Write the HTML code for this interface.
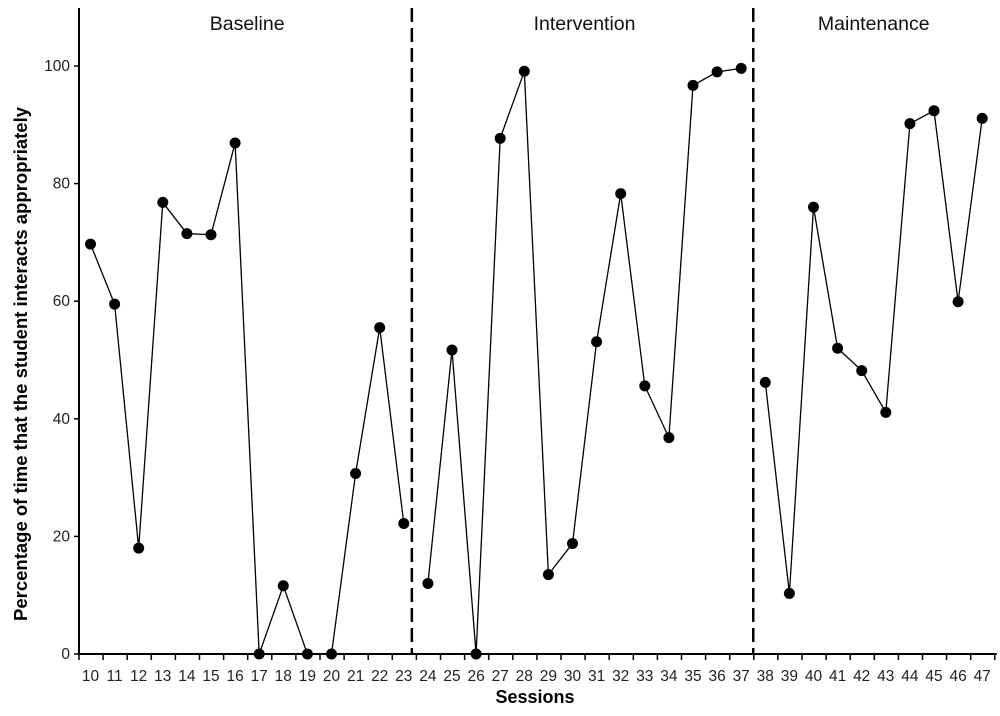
<!DOCTYPE html>
<html><head><meta charset="utf-8"><style>
body{margin:0;background:#fff;}
svg{display:block;font-family:"Liberation Sans",Arial,sans-serif;}
</style></head><body>
<svg id="chart" width="1000" height="716"></svg>
<script>
const sessions=[10,11,12,13,14,15,16,17,18,19,20,21,22,23,24,25,26,27,28,29,30,31,32,33,34,35,36,37,38,39,40,41,42,43,44,45,46,47];
const values=[69.7,59.5,18,76.8,71.5,71.3,86.9,0,11.6,0,0,30.7,55.5,22.2,12,51.7,0,87.7,99.1,13.5,18.8,53.1,78.3,45.6,36.8,96.7,99,99.6,46.2,10.3,76,52,48.2,41.1,90.2,92.4,59.9,91.1];
const phaseNames=["Baseline","Intervention","Maintenance"];
const phaseStarts=[10,24,38];
const phaseEnds=[23,37,47];
const yTicks=[0,20,40,60,80,100];

const NS="http://www.w3.org/2000/svg";
const svg=document.getElementById('chart');
const X0=79,Y0=654,Y100=66,STEP=24.1,TOP=8;
const xS=s=>X0+11.5+(s-10)*STEP;
const yS=v=>Y0-(v/100)*(Y0-Y100);
function mk(t,a,p){const e=document.createElementNS(NS,t);for(const k in a)e.setAttribute(k,a[k]);(p||svg).appendChild(e);return e;}

const axes=mk('g',{});


mk('line',{x1:X0,y1:TOP,x2:X0,y2:Y0,stroke:'#000','stroke-width':2},axes);
mk('line',{x1:X0,y1:Y0,x2:X0+sessions.length*STEP+2,y2:Y0,stroke:'#000','stroke-width':2},axes);
yTicks.forEach(v=>{
  mk('line',{x1:X0-5,y1:yS(v),x2:X0,y2:yS(v),stroke:'#000','stroke-width':1.5},axes);
  const t=mk('text',{x:X0-9,y:yS(v)+5,'text-anchor':'end','font-size':15.5,fill:'#222'},axes);
  t.textContent=v;
  
  
});
for(let k=0;k<=sessions.length;k++){
  const x=X0+k*STEP;
  mk('line',{x1:x,y1:Y0,x2:x,y2:Y0+6,stroke:'#000','stroke-width':1.5},axes);
}
sessions.forEach(s=>{
  const t=mk('text',{x:xS(s),y:Y0+27,'text-anchor':'middle','font-size':15.5,fill:'#222'},axes);
  t.textContent=s;
  
  
});
const xt=mk('text',{x:535,y:703,'text-anchor':'middle','font-size':18,'font-weight':'bold'});
xt.textContent='Sessions';


const yt=mk('text',{x:0,y:0,transform:'translate(27,364) rotate(-90)','text-anchor':'middle','font-size':18.5,'font-weight':'bold'});
yt.textContent='Percentage of time that the student interacts appropriately';



for(let p=0;p<phaseNames.length;p++){
  if(p>0){
    const x=(xS(phaseEnds[p-1])+xS(phaseStarts[p]))/2-(p===1?4:0);
    const l=mk('line',{x1:x,y1:TOP,x2:x,y2:Y0,stroke:'#000','stroke-width':2.5,'stroke-dasharray':'14,6'});
    
    
  }
  const cx=(xS(phaseStarts[p])+xS(phaseEnds[p]))/2;
  const t=mk('text',{x:cx,y:30,'text-anchor':'middle','font-size':19.5,fill:'#111'});
  t.textContent=phaseNames[p];
  
  
}
for(let p=0;p<phaseNames.length;p++){
  const pts=[];
  sessions.forEach((s,i)=>{if(s>=phaseStarts[p]&&s<=phaseEnds[p])pts.push(xS(s)+','+yS(values[i]));});
  const pl=mk('polyline',{points:pts.join(' '),fill:'none',stroke:'#000','stroke-width':1.3});
  
  
}
sessions.forEach((s,i)=>{
  const c=mk('circle',{cx:xS(s),cy:yS(values[i]),r:5.5,fill:'#000'});
  
  
});
</script>
</body></html>
